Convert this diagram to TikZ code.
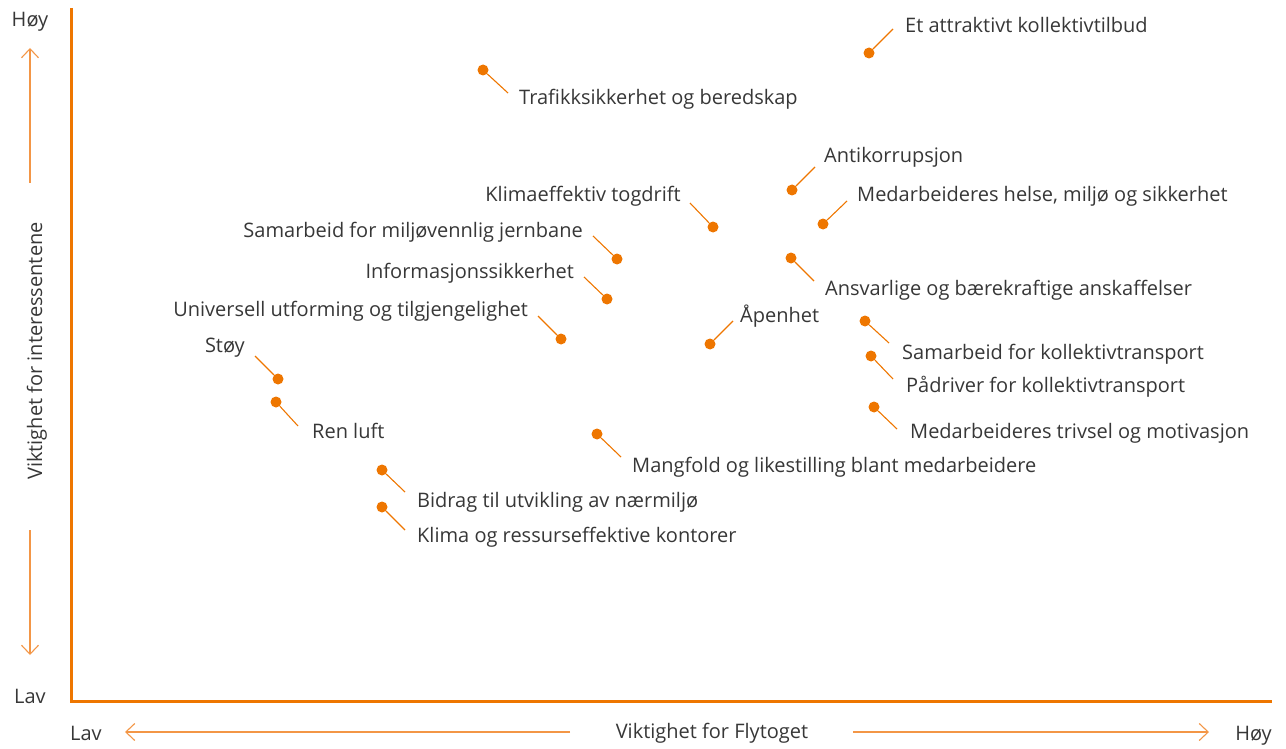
\documentclass[tikz,border=0pt]{standalone}
\usepackage{fontspec}
\setmainfont{Open Sans}
\usetikzlibrary{arrows.meta}
\definecolor{fly}{RGB}{238,118,0}
\definecolor{flylight}{RGB}{243,150,70}
\definecolor{txt}{RGB}{55,55,55}
\tikzset{
  dot/.style={circle,fill=fly,inner sep=0pt,minimum size=11pt},
  lbl/.style={text=txt,font=\fontsize{20}{24}\selectfont,inner sep=0pt},
  lead/.style={draw=fly,line width=1.1pt},
  axarrow/.style={draw=flylight,line width=1.1pt,-{Straight Barb[length=9pt,width=17pt]}}
}
\begin{document}
\begin{tikzpicture}[x=1pt,y=-1pt]
  \useasboundingbox (0,0) rectangle (1286,749);
  \draw[fly,line width=3pt] (71,8) -- (71,701) -- (1272,701);
  \node[lbl,anchor=base] (hoyy) at (30,27) {Høy};
  \node[lbl,anchor=base] (lavy) at (30,703) {Lav};
  \node[lbl,anchor=base,rotate=90] (ytitle) at (42,351) {Viktighet for interessentene};
  \node[lbl,anchor=base west] (lavx) at (70,740) {Lav};
  \node[lbl,anchor=base east] (hoyx) at (1272,740) {Høy};
  \node[lbl,anchor=base] (xtitle) at (712,738) {Viktighet for Flytoget};
  \coordinate (up0) at (30,183);  \coordinate (up1) at (30,48);
  \coordinate (dn0) at (30,530);  \coordinate (dn1) at (30,655);
  \coordinate (lt0) at (570,732); \coordinate (lt1) at (125,732);
  \coordinate (rt0) at (853,732); \coordinate (rt1) at (1209,732);
  \draw[axarrow] (up0) -- (up1);
  \draw[axarrow] (dn0) -- (dn1);
  \draw[axarrow] (lt0) -- (lt1);
  \draw[axarrow] (rt0) -- (rt1);
  \foreach \n/\x/\y/\ex/\ey/\lx/\ly/\a/\t in {
    1/869/53/893/29/905/33/west/{Et attraktivt kollektivtilbud},
    2/483/70/508/93/519/105/west/{Trafikksikkerhet og beredskap},
    3/792/190/815/167/824/163/west/{Antikorrupsjon},
    4/823/224/847/201/857/201/west/{Medarbeideres helse, miljø og sikkerhet},
    5/713/227/690/203/681/202/east/{Klimaeffektiv togdrift},
    6/617/259/593/236/583/237/east/{Samarbeid for miljøvennlig jernbane},
    7/791/258/814/281/825/295/west/{Ansvarlige og bærekraftige anskaffelser},
    8/607/299/584/277/574/278/east/{Informasjonssikkerhet},
    9/561/339/538/316/528/316/east/{Universell utforming og tilgjengelighet},
    10/710/344/733/321/740/322/west/{Åpenhet},
    11/865/321/889/343/902/359/west/{Samarbeid for kollektivtransport},
    12/871/356/893/379/906/392/west/{Pådriver for kollektivtransport},
    13/874/407/897/429/910/438/west/{Medarbeideres trivsel og motivasjon},
    14/278/379/255/356/245/352/east/{Støy},
    15/276/402/298/426/312/438/west/{Ren luft},
    16/597/434/621/457/632/472/west/{Mangfold og likestilling blant medarbeidere},
    17/382/470/405/492/417/507/west/{Bidrag til utvikling av nærmiljø},
    18/382/507/405/530/417/542/west/{Klima og ressurseffektive kontorer}}
  {
    \node[dot] (d\n) at (\x,\y) {};
    \coordinate (e\n) at (\ex,\ey);
    \draw[lead] (d\n) -- (e\n);
    \node[lbl,anchor=base \a] (l\n) at (\lx,\ly) {\t};
  }
\end{tikzpicture}
\end{document}
